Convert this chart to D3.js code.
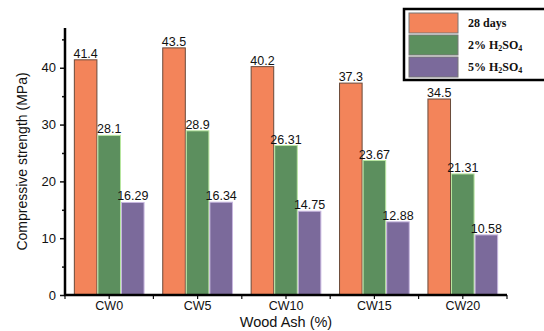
<!DOCTYPE html>
<html><head><meta charset="utf-8">
<script src="https://cdn.jsdelivr.net/npm/d3@7"></script>
<style>body{margin:0;background:#fff}svg{display:block}</style>
</head><body>
<svg id="c" width="544" height="331"></svg>
<script>
const categories = ["CW0","CW5","CW10","CW15","CW20"];
const seriesNames = ["28 days","2% H2SO4","5% H2SO4"];
const days28 = [41.4, 43.5, 40.2, 37.3, 34.5];
const h2so4_2 = [28.1, 28.9, 26.31, 23.67, 21.31];
const h2so4_5 = [16.29, 16.34, 14.75, 12.88, 10.58];
const labels28 = ["41.4","43.5","40.2","37.3","34.5"];
const labels2 = ["28.1","28.9","26.31","23.67","21.31"];
const labels5 = ["16.29","16.34","14.75","12.88","10.58"];
const yTicks = [0,10,20,30,40];
const colors = ["#f3845a","#5c8f5e","#7b6a9b"];
const strokes = ["#6a4a3a","#b8e6a0","#c8b8e0"];

const svg = d3.select("#c");
const L=65, R=507, B=295, T=28;
const x0 = d3.scaleBand().domain(categories).range([L,R]).paddingInner(0.2).paddingOuter(0.1);
const x1 = d3.scaleBand().domain([0,1,2]).range([0,x0.bandwidth()]);
const y = d3.scaleLinear().domain([0,47]).range([B,T]);

const series = [days28,h2so4_2,h2so4_5];
const lbls = [labels28,labels2,labels5];

series.forEach((vals,si)=>{
  svg.append("g").selectAll("rect").data(vals).join("rect")
    .attr("x",(d,i)=>x0(categories[i])+x1(si)+0.5)
    .attr("y",d=>y(d))
    .attr("width",x1.bandwidth()-1)
    .attr("height",d=>B-y(d))
    .attr("fill",colors[si]).attr("stroke",strokes[si]).attr("stroke-width",1);
  svg.append("g").selectAll("text").data(vals).join("text")
    .attr("x",(d,i)=>x0(categories[i])+x1(si)+x1.bandwidth()/2)
    .attr("y",d=>y(d)-2)
    .attr("text-anchor","middle")
    .attr("font-family","Liberation Sans, Arial, sans-serif")
    .attr("font-size",12.5).attr("fill","#111")
    .text((d,i)=>lbls[si][i]);
});

// Y axis
const yAxis = d3.axisLeft(y).tickValues(yTicks).tickSize(5).tickPadding(4).tickFormat(d3.format("d"));
const gy = svg.append("g").attr("transform",`translate(${L},0)`).call(yAxis);
gy.select(".domain").remove();
gy.selectAll("text").attr("font-family","Liberation Sans, Arial, sans-serif").attr("font-size",13).attr("fill","#111");
gy.selectAll("line").attr("stroke","#111").attr("stroke-width",1.5);
const gyMinor = svg.append("g").attr("transform",`translate(${L},0)`)
  .call(d3.axisLeft(y).tickValues([5,15,25,35,45]).tickSize(3).tickFormat(""));
gyMinor.select(".domain").remove();
gyMinor.selectAll("line").attr("stroke","#111").attr("stroke-width",1.5);

// X axis
const xAxis = d3.axisBottom(x0).tickSize(4).tickPadding(2);
const gx = svg.append("g").attr("transform",`translate(0,${B})`).call(xAxis);
gx.select(".domain").remove();
gx.selectAll("text").attr("font-family","Liberation Sans, Arial, sans-serif").attr("font-size",12.5).attr("fill","#111");
gx.selectAll("line").attr("stroke","#111").attr("stroke-width",1.2);
// boundary ticks
const bounds = categories.map(c=>x0(c)-x0.step()*x0.paddingInner()/2).concat([R]);
bounds[0]=L;
svg.append("g").selectAll("line").data(bounds).join("line")
  .attr("x1",d=>d).attr("x2",d=>d).attr("y1",B).attr("y2",B+4)
  .attr("stroke","#111").attr("stroke-width",1.2);

// axis lines
svg.append("line").attr("x1",L).attr("x2",L).attr("y1",T).attr("y2",B+1).attr("stroke","#000").attr("stroke-width",2.5);
svg.append("line").attr("x1",L-1).attr("x2",R).attr("y1",B).attr("y2",B).attr("stroke","#000").attr("stroke-width",2.5);

// axis titles
svg.append("text").attr("transform",`translate(27,${(T+B)/2}) rotate(-90)`)
  .attr("text-anchor","middle").attr("font-family","Liberation Sans, Arial, sans-serif")
  .attr("font-size",14).attr("fill","#111").text("Compressive strength (MPa)");
svg.append("text").attr("x",286).attr("y",327).attr("text-anchor","middle")
  .attr("font-family","Liberation Sans, Arial, sans-serif").attr("font-size",14.5).attr("fill","#111")
  .text("Wood Ash (%)");

// Legend
const lg = svg.append("g");
lg.append("rect").attr("x",404).attr("y",9).attr("width",145).attr("height",71)
  .attr("fill","#fff").attr("stroke","#000").attr("stroke-width",2.5);
seriesNames.forEach((n,i)=>{
  const yy = 13 + i*22;
  lg.append("rect").attr("x",409).attr("y",yy).attr("width",49).attr("height",20)
    .attr("fill",colors[i]).attr("stroke","#777").attr("stroke-width",1);
  const t = lg.append("text").attr("x",468).attr("y",yy+14)
    .attr("font-family","Liberation Serif, Times New Roman, serif").attr("font-weight","bold")
    .attr("font-size",12).attr("fill","#111");
  if(i===0){ t.text(n); }
  else {
    const pct = n.split(" ")[0];
    t.append("tspan").text(pct+" H");
    t.append("tspan").attr("font-size",8).attr("dy",2).text("2");
    t.append("tspan").attr("dy",-2).text("SO");
    t.append("tspan").attr("font-size",8).attr("dy",2).text("4");
  }
});
</script>
</body></html>
